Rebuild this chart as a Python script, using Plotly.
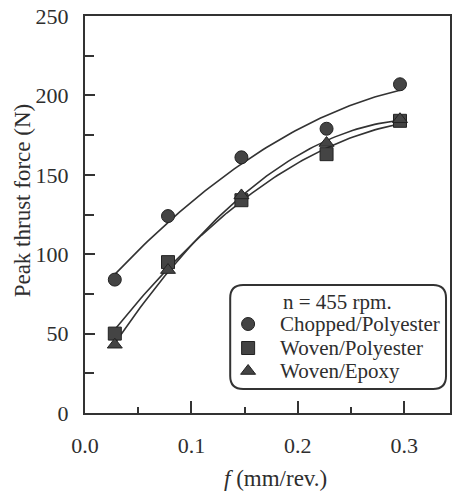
import numpy as np
import plotly.graph_objects as go

# ---- data ----
feed = [0.028, 0.078, 0.147, 0.227, 0.296]
chopped_polyester = [84, 124, 161, 179, 207]
woven_polyester = [50, 95, 134, 163, 184]
woven_epoxy = [43, 90, 137, 170, 185]
series_names = ["Chopped/Polyester", "Woven/Polyester", "Woven/Epoxy"]
series_values = [chopped_polyester, woven_polyester, woven_epoxy]
symbols = ["circle", "square", "triangle-up"]
legend_title = "n = 455 rpm."
x_ticks = [0.0, 0.1, 0.2, 0.3]
x_tick_text = ["0.0", "0.1", "0.2", "0.3"]
y_ticks = [0, 50, 100, 150, 200, 250]

FONT = "Liberation Serif, Times New Roman, serif"
INK = "#2e2e2e"
W, H = 454, 491
L, R, T, B = 85, 2, 16, 78
PW, PH = W - L - R, H - T - B

def px_to_paper(px, py):
    return (px - L) / PW, (H - B - py) / PH

fig = go.Figure()

# fitted curves + markers
for name, vals, sym in zip(series_names, series_values, symbols):
    coef = np.polyfit(feed, vals, 2)
    xs = np.linspace(feed[0], feed[-1], 80)
    fig.add_trace(go.Scatter(x=xs, y=np.polyval(coef, xs), mode="lines",
                             line=dict(color="#333333", width=1.6),
                             showlegend=False, hoverinfo="skip"))
for name, vals, sym in zip(series_names, series_values, symbols):
    fig.add_trace(go.Scatter(x=feed, y=vals, mode="markers", name=name,
                             marker=dict(symbol=sym, size=13, color="#444444",
                                         line=dict(color="#222222", width=1)),
                             showlegend=False))

# ---- hand-built legend (rounded box) ----
bx0, by0, bx1, by1, rad = 231, 285, 448, 389, 13
def pt(px, py):
    a, b = px_to_paper(px, py)
    return f"{a:.5f},{b:.5f}"
path = (f"M {pt(bx0+rad, by0)} L {pt(bx1-rad, by0)} Q {pt(bx1, by0)} {pt(bx1, by0+rad)} "
        f"L {pt(bx1, by1-rad)} Q {pt(bx1, by1)} {pt(bx1-rad, by1)} "
        f"L {pt(bx0+rad, by1)} Q {pt(bx0, by1)} {pt(bx0, by1-rad)} "
        f"L {pt(bx0, by0+rad)} Q {pt(bx0, by0)} {pt(bx0+rad, by0)} Z")
fig.add_shape(type="path", path=path, xref="paper", yref="paper",
              line=dict(color="#333333", width=2), fillcolor="rgba(255,255,255,0)")

item_py = [324, 348, 371]
mx, tx = 249, 279
for name, sym, py in zip(series_names, symbols, item_py):
    ax, ay = px_to_paper(mx, py)
    fig.add_trace(go.Scatter(x=[ax], y=[ay], xaxis="x2", yaxis="y2", mode="markers",
                             marker=dict(symbol=sym, size=13, color="#444444",
                                         line=dict(color="#222222", width=1)),
                             showlegend=False, hoverinfo="skip"))
    lx, ly = px_to_paper(tx, py)
    fig.add_annotation(x=lx, y=ly, xref="paper", yref="paper", text=name,
                       showarrow=False, xanchor="left", yanchor="middle",
                       font=dict(family=FONT, size=21, color=INK))
tx_, ty_ = px_to_paper(282, 302)
fig.add_annotation(x=tx_, y=ty_, xref="paper", yref="paper", text=legend_title,
                   showarrow=False, xanchor="left", yanchor="middle",
                   font=dict(family=FONT, size=21, color=INK))

# axis titles
ax_, ay_ = px_to_paper(277, 478)
fig.add_annotation(x=ax_, y=ay_, xref="paper", yref="paper",
                   text="<i>f</i> (mm/rev.)", showarrow=False,
                   xanchor="center", yanchor="middle",
                   font=dict(family=FONT, size=23, color=INK))
ax_, ay_ = px_to_paper(22, 200)
fig.add_annotation(x=ax_, y=ay_, xref="paper", yref="paper",
                   text="Peak thrust force (N)", textangle=-90, showarrow=False,
                   xanchor="center", yanchor="middle",
                   font=dict(family=FONT, size=23, color=INK))

fig.update_layout(
    width=W, height=H, margin=dict(l=L, r=R, t=T, b=B),
    paper_bgcolor="white", plot_bgcolor="white",
    font=dict(family=FONT, color=INK),
    xaxis=dict(range=[0, 0.343], tickvals=x_ticks, ticktext=x_tick_text,
               ticks="inside", ticklen=12, tickwidth=2, tickcolor="#333",
               minor=dict(dtick=0.05, tick0=0, ticks="inside", ticklen=6,
                          tickwidth=2, tickcolor="#333"),
               showline=True, linewidth=2, linecolor="#333", mirror=True,
               showgrid=False, zeroline=False,
               tickfont=dict(family=FONT, size=22, color=INK), ticklabelstandoff=12),
    yaxis=dict(range=[0, 250], tickvals=y_ticks,
               ticks="inside", ticklen=10, tickwidth=2, tickcolor="#333",
               minor=dict(dtick=25, tick0=0, ticks="inside", ticklen=9,
                          tickwidth=2, tickcolor="#333"),
               showline=True, linewidth=2, linecolor="#333", mirror=True,
               showgrid=False, zeroline=False,
               tickfont=dict(family=FONT, size=22, color=INK), ticklabelstandoff=10),
    xaxis2=dict(overlaying="x", range=[0, 1], visible=False),
    yaxis2=dict(overlaying="y", range=[0, 1], visible=False),
)

fig.write_html("out.html")
